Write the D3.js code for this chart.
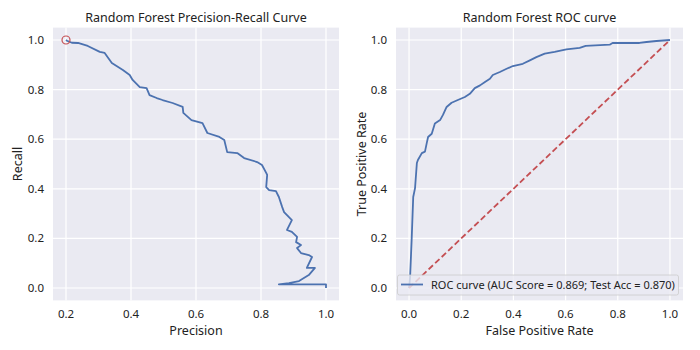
<!DOCTYPE html>
<html>
<head>
<meta charset="utf-8">
<script src="https://cdn.jsdelivr.net/npm/d3@7"></script>
<style>
  body { margin: 0; background: #fff; }
  text { font-family: "Noto Sans", sans-serif; fill: #222; }
</style>
</head>
<body>
<div id="chart"></div>
<script>
// Precision-recall curve (precision on x, recall on y)
const prPrecision = [0.200, 0.203, 0.218, 0.237, 0.267, 0.304, 0.319, 0.341, 0.375, 0.396,
  0.405, 0.427, 0.448, 0.457, 0.479, 0.497, 0.528, 0.559, 0.561, 0.586,
  0.620, 0.635, 0.672, 0.687, 0.696, 0.727, 0.748, 0.788, 0.803, 0.816,
  0.819, 0.816, 0.825, 0.846, 0.855, 0.865, 0.871, 0.886, 0.895, 0.880,
  0.895, 0.911, 0.908, 0.923, 0.911, 0.923, 0.947, 0.957, 0.941, 0.966,
  0.947, 0.917, 0.886, 0.855, 1.000, 1.000];
const prRecall = [1.000, 0.997, 0.989, 0.988, 0.976, 0.952, 0.948, 0.907, 0.879, 0.859,
  0.839, 0.810, 0.806, 0.778, 0.766, 0.758, 0.746, 0.730, 0.706, 0.677,
  0.665, 0.625, 0.609, 0.597, 0.548, 0.544, 0.524, 0.508, 0.496, 0.464,
  0.456, 0.407, 0.395, 0.391, 0.367, 0.327, 0.306, 0.286, 0.274, 0.234,
  0.226, 0.206, 0.185, 0.173, 0.161, 0.141, 0.133, 0.125, 0.081, 0.081,
  0.052, 0.028, 0.020, 0.015, 0.015, 0.000];

// ROC curve
const rocFpr = [0, 0.004, 0.010, 0.016, 0.023, 0.030, 0.034, 0.049, 0.061, 0.068,
  0.073, 0.087, 0.099, 0.119, 0.130, 0.144, 0.163, 0.187, 0.214, 0.233,
  0.252, 0.272, 0.291, 0.310, 0.321, 0.348, 0.374, 0.398, 0.436, 0.463,
  0.488, 0.520, 0.558, 0.603, 0.654, 0.677, 0.769, 0.780, 0.883, 0.910,
  0.948, 1.000];
const rocTpr = [0, 0.044, 0.194, 0.367, 0.403, 0.504, 0.516, 0.544, 0.550, 0.585,
  0.609, 0.622, 0.663, 0.677, 0.698, 0.730, 0.747, 0.758, 0.770, 0.783,
  0.806, 0.817, 0.831, 0.844, 0.859, 0.871, 0.884, 0.895, 0.904, 0.918,
  0.931, 0.945, 0.952, 0.962, 0.968, 0.976, 0.981, 0.988, 0.988, 0.992,
  0.996, 1.000];

const diagonal = [0, 1];
const prTicks = [0.2, 0.4, 0.6, 0.8, 1.0];
const unitTicks = [0.0, 0.2, 0.4, 0.6, 0.8, 1.0];
const legendLabel = "ROC curve (AUC Score = 0.869; Test Acc = 0.870)";

const width = 700;
const height = 350;
const blue = "#4C72B0";
const red = "#C44E52";

const svg = d3.select("#chart")
    .append("svg")
    .attr("width", width)
    .attr("height", height);

// Draws one seaborn-style darkgrid panel and returns its scales
function panel(opts) {
    const x = d3.scaleLinear().domain(opts.xDomain).range([opts.left, opts.right]);
    const y = d3.scaleLinear().domain([-0.05, 1.05]).range([300.4, 27.6]);
    const g = svg.append("g");

    g.append("rect")
        .attr("x", opts.left)
        .attr("y", y(1.05))
        .attr("width", opts.right - opts.left)
        .attr("height", y(-0.05) - y(1.05))
        .attr("fill", "#EAEAF2");

    // Grid
    g.selectAll(".vgrid")
        .data(opts.xTicks)
        .join("line")
        .attr("x1", d => x(d)).attr("x2", d => x(d))
        .attr("y1", y(1.05)).attr("y2", y(-0.05))
        .attr("stroke", "#fff").attr("stroke-width", 1.2);
    g.selectAll(".hgrid")
        .data(unitTicks)
        .join("line")
        .attr("x1", opts.left).attr("x2", opts.right)
        .attr("y1", d => y(d)).attr("y2", d => y(d))
        .attr("stroke", "#fff").attr("stroke-width", 1.2);

    // Tick labels
    g.selectAll(".xt")
        .data(opts.xTicks)
        .join("text")
        .attr("x", d => x(d))
        .attr("y", 318)
        .attr("text-anchor", "middle")
        .style("font-size", "11.5px")
        .text(d => d.toFixed(1));
    g.selectAll(".yt")
        .data(unitTicks)
        .join("text")
        .attr("x", opts.left - 9)
        .attr("y", d => y(d) + 4)
        .attr("text-anchor", "end")
        .style("font-size", "11.5px")
        .text(d => d.toFixed(1));

    // Title and axis labels
    g.append("text")
        .attr("x", (opts.left + opts.right) / 2)
        .attr("y", 22)
        .attr("text-anchor", "middle")
        .style("font-size", "12.5px")
        .text(opts.title);
    g.append("text")
        .attr("x", (opts.left + opts.right) / 2)
        .attr("y", 335)
        .attr("text-anchor", "middle")
        .style("font-size", "12.5px")
        .text(opts.xLabel);
    g.append("text")
        .attr("transform", `translate(${opts.yLabelX},164) rotate(-90)`)
        .attr("text-anchor", "middle")
        .style("font-size", "12.5px")
        .text(opts.yLabel);

    return { x, y, g };
}

const line = d3.line();

// Left: precision-recall
const left = panel({
    left: 53, right: 339, xDomain: [0.16, 1.04], xTicks: prTicks,
    title: "Random Forest Precision-Recall Curve",
    xLabel: "Precision", yLabel: "Recall", yLabelX: 22
});
left.g.append("path")
    .attr("d", line(prPrecision.map((p, i) => [left.x(p), left.y(prRecall[i])])))
    .attr("fill", "none")
    .attr("stroke", blue)
    .attr("stroke-width", 1.8)
    .attr("stroke-linejoin", "round");
left.g.append("circle")
    .attr("cx", left.x(prPrecision[0]))
    .attr("cy", left.y(prRecall[0]))
    .attr("r", 4)
    .attr("fill", "none")
    .attr("stroke", red)
    .attr("stroke-width", 1.2);

// Right: ROC
const right = panel({
    left: 396, right: 683, xDomain: [-0.05, 1.05], xTicks: unitTicks,
    title: "Random Forest ROC curve",
    xLabel: "False Positive Rate", yLabel: "True Positive Rate", yLabelX: 366
});
right.g.append("path")
    .attr("d", line(rocFpr.map((f, i) => [right.x(f), right.y(rocTpr[i])])))
    .attr("fill", "none")
    .attr("stroke", blue)
    .attr("stroke-width", 1.8)
    .attr("stroke-linejoin", "round");
right.g.append("path")
    .attr("d", line(diagonal.map(d => [right.x(d), right.y(d)])))
    .attr("fill", "none")
    .attr("stroke", red)
    .attr("stroke-width", 1.8)
    .attr("stroke-dasharray", "6,3");

// Legend
const legend = right.g.append("g");
legend.append("rect")
    .attr("x", 397.5).attr("y", 275)
    .attr("width", 281).attr("height", 20)
    .attr("rx", 2)
    .attr("fill", "#EAEAF2").attr("fill-opacity", 0.8)
    .attr("stroke", "#cccccc").attr("stroke-width", 0.8);
legend.append("line")
    .attr("x1", 401).attr("x2", 423)
    .attr("y1", 284.5).attr("y2", 284.5)
    .attr("stroke", blue).attr("stroke-width", 1.8);
legend.append("text")
    .attr("x", 431).attr("y", 289)
    .style("font-size", "11px")
    .text(legendLabel);
</script>
</body>
</html>
